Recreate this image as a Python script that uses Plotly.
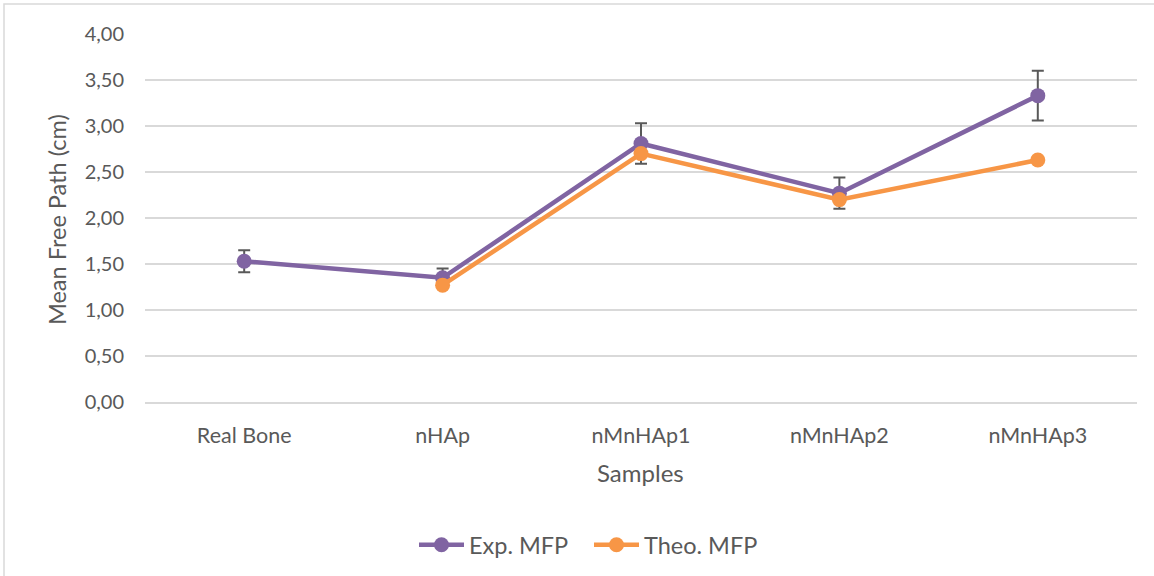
import plotly.graph_objects as go

categories = ["Real Bone", "nHAp", "nMnHAp1", "nMnHAp2", "nMnHAp3"]
exp_mfp = [1.53, 1.35, 2.81, 2.27, 3.33]
exp_err = [0.12, 0.10, 0.22, 0.17, 0.27]
theo_mfp = [None, 1.27, 2.70, 2.20, 2.63]
y_ticks = [0, 0.5, 1.0, 1.5, 2.0, 2.5, 3.0, 3.5, 4.0]

FONT = "Lato, Open Sans, sans-serif"
TXT = "#595959"
W, H = 1154, 576
ML, MR, MT, MB = 145, 17, 34, 174
pw = W - ML - MR
ph = H - MT - MB


def px_x(x):
    return (x - ML) / pw


def px_y(y):
    return (H - MB - y) / ph


fig = go.Figure()
fig.add_trace(go.Scatter(
    x=categories, y=exp_mfp, name="Exp. MFP", mode="lines+markers",
    line=dict(color="#8064A2", width=4.5),
    marker=dict(color="#8064A2", size=15),
    error_y=dict(type="data", array=exp_err, visible=True,
                 color="#595959", thickness=2, width=6),
))
fig.add_trace(go.Scatter(
    x=categories, y=theo_mfp, name="Theo. MFP", mode="lines+markers",
    line=dict(color="#F79646", width=4.5),
    marker=dict(color="#F79646", size=15),
))

fig.add_shape(type="rect", xref="paper", yref="paper",
              x0=px_x(4), x1=px_x(1165),
              y0=px_y(590), y1=px_y(4),
              line=dict(color="#D9D9D9", width=1.5), layer="below")

fig.add_annotation(text="Samples", xref="paper", yref="paper",
                   x=px_x(640), y=px_y(473), showarrow=False,
                   xanchor="center", yanchor="middle",
                   font=dict(family=FONT, size=24, color=TXT))
fig.add_annotation(text="Mean Free Path (cm)", xref="paper", yref="paper",
                   x=px_x(57), y=px_y(220), showarrow=False, textangle=-90,
                   xanchor="center", yanchor="middle",
                   font=dict(family=FONT, size=23.5, color=TXT))

fig.update_layout(
    width=W, height=H,
    margin=dict(l=ML, r=MR, t=MT, b=MB, autoexpand=False),
    paper_bgcolor="white", plot_bgcolor="white",
    separators=",.",
    font=dict(family=FONT, color=TXT, size=20),
    showlegend=True,
    legend=dict(orientation="h", xref="container", x=589 / W, xanchor="center",
                yref="container", y=1 - 545 / H, yanchor="middle",
                font=dict(size=23.5, color=TXT), itemwidth=45,
                entrywidth=115, tracegroupgap=0),
    xaxis=dict(
        showgrid=False, showline=True, linecolor="#D9D9D9", linewidth=1.5,
        ticks="", tickfont=dict(size=21.5, color=TXT),
        range=[-0.5, 4.5], automargin=False, ticklabelstandoff=13,
    ),
    yaxis=dict(
        range=[0, 4.0], tickvals=y_ticks, tickformat=".2f",
        showgrid=True, gridcolor="#D9D9D9", gridwidth=1.5,
        zeroline=False, showline=False, ticks="",
        tickfont=dict(size=20, color=TXT), automargin=False,
        ticklabelstandoff=20,
    ),
)

fig.write_html("out.html", config={"displayModeBar": False},
               post_script="document.body.style.margin='0';")
